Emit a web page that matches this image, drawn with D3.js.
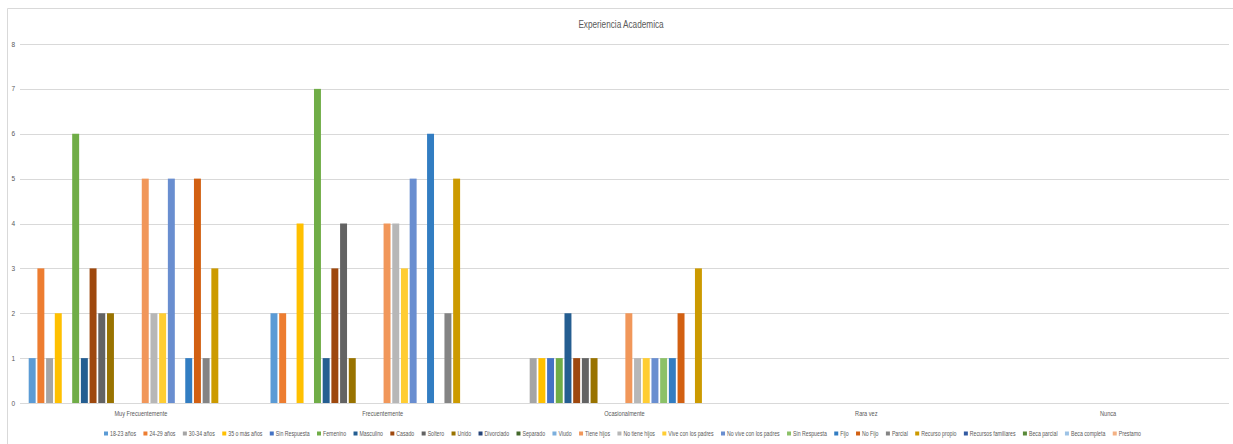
<!DOCTYPE html>
<html>
<head>
<meta charset="utf-8">
<script src="https://cdn.jsdelivr.net/npm/d3@7/dist/d3.min.js"></script>
<style>
  html, body { margin: 0; padding: 0; background: #fff; }
  svg { display: block; }
  text { font-family: "Liberation Sans", Arial, sans-serif; fill: #595959; }
</style>
</head>
<body>
<svg id="chart" width="1233" height="444"></svg>
<script>
// Categories on the x axis
const categories = ["Muy Frecuentemente", "Frecuentemente", "Ocasionalmente", "Rara vez", "Nunca"];

// Series names, in legend order
const seriesNames = [
  "18-23 años", "24-29 años", "30-34 años", "35 o más años", "Sin Respuesta",
  "Femenino", "Masculino", "Casado", "Soltero", "Unido", "Divorciado", "Separado", "Viudo",
  "Tiene hijos", "No tiene hijos", "Vive con los padres", "No vive con los padres", "Sin Respuesta",
  "Fijo", "No Fijo", "Parcial", "Recurso propio", "Recursos familiares", "Beca parcial",
  "Beca completa", "Prestamo"
];

// Counts per series, one value per category
const v18_23        = [1, 2, 0, 0, 0];
const v24_29        = [3, 2, 0, 0, 0];
const v30_34        = [1, 0, 1, 0, 0];
const v35mas        = [2, 4, 1, 0, 0];
const vSinRespEdad  = [0, 0, 1, 0, 0];
const vFemenino     = [6, 7, 1, 0, 0];
const vMasculino    = [1, 1, 2, 0, 0];
const vCasado       = [3, 3, 1, 0, 0];
const vSoltero      = [2, 4, 1, 0, 0];
const vUnido        = [2, 1, 1, 0, 0];
const vDivorciado   = [0, 0, 0, 0, 0];
const vSeparado     = [0, 0, 0, 0, 0];
const vViudo        = [0, 0, 0, 0, 0];
const vTieneHijos   = [5, 4, 2, 0, 0];
const vNoTieneHijos = [2, 4, 1, 0, 0];
const vVivePadres   = [2, 3, 1, 0, 0];
const vNoVivePadres = [5, 5, 1, 0, 0];
const vSinRespViv   = [0, 0, 1, 0, 0];
const vFijo         = [1, 6, 1, 0, 0];
const vNoFijo       = [5, 0, 2, 0, 0];
const vParcial      = [1, 2, 0, 0, 0];
const vRecPropio    = [3, 5, 3, 0, 0];
const vRecFamiliar  = [0, 0, 0, 0, 0];
const vBecaParcial  = [0, 0, 0, 0, 0];
const vBecaCompleta = [0, 0, 0, 0, 0];
const vPrestamo     = [0, 0, 0, 0, 0];

const seriesValues = [
  v18_23, v24_29, v30_34, v35mas, vSinRespEdad, vFemenino, vMasculino, vCasado, vSoltero,
  vUnido, vDivorciado, vSeparado, vViudo, vTieneHijos, vNoTieneHijos, vVivePadres,
  vNoVivePadres, vSinRespViv, vFijo, vNoFijo, vParcial, vRecPropio, vRecFamiliar,
  vBecaParcial, vBecaCompleta, vPrestamo
];

const yTicks = [0, 1, 2, 3, 4, 5, 6, 7, 8];

const colors = [
  "#5B9BD5", "#ED7D31", "#A5A5A5", "#FFC000", "#4472C4", "#70AD47", "#255E91", "#9E480E",
  "#636363", "#997300", "#264478", "#43682B", "#7CAFDD", "#F1975A", "#B7B7B7", "#FFCD33",
  "#698ED0", "#8CC168", "#327DC2", "#D26012", "#848484", "#CC9A00", "#335AA1", "#5A8A39",
  "#9DC3E6", "#F4B183"
];

const svg = d3.select("#chart");
const W = 1233, H = 444;
const plot = { left: 20, right: 1229, top: 44, bottom: 403 };

// narrow the text horizontally, keeping its height
function condense(sel, factor) {
  sel.each(function () {
    const len = this.getComputedTextLength();
    d3.select(this).attr("textLength", len * factor).attr("lengthAdjust", "spacingAndGlyphs");
  });
}

// chart frame
svg.append("path")
  .attr("d", `M7.5,${H} V8.5 H${W}`)
  .attr("fill", "none").attr("stroke", "#D9D9D9").attr("stroke-width", 1);

const x0 = d3.scaleBand().domain(categories).range([plot.left, plot.right]);
const x1 = d3.scaleBand().domain(d3.range(seriesNames.length))
  .range([0, x0.bandwidth()]).paddingInner(0.2).paddingOuter(1.0);
const y = d3.scaleLinear().domain([0, 8]).range([plot.bottom, plot.top]);

// gridlines
svg.append("g")
  .selectAll("line").data(yTicks).join("line")
  .attr("x1", plot.left).attr("x2", plot.right)
  .attr("y1", d => Math.round(y(d)) + 0.5).attr("y2", d => Math.round(y(d)) + 0.5)
  .attr("stroke", "#D9D9D9").attr("stroke-width", 1);

// y axis labels
const yAxis = d3.axisLeft(y).tickValues(yTicks).tickSize(0).tickPadding(0);
svg.append("g").attr("transform", `translate(${plot.left - 5},0)`).call(yAxis)
  .call(g => g.select(".domain").remove())
  .call(g => g.selectAll("text")
    .attr("fill", "#595959").attr("font-size", "6.5px")
    .attr("font-family", "'Liberation Sans', Arial, sans-serif"));

// bars
const groups = svg.append("g").selectAll("g").data(categories).join("g")
  .attr("transform", d => `translate(${x0(d)},0)`);

groups.selectAll("rect")
  .data((c, ci) => seriesValues.map((vals, si) => ({ si, v: vals[ci] })).filter(d => d.v > 0))
  .join("rect")
  .attr("x", d => x1(d.si))
  .attr("width", x1.bandwidth())
  .attr("y", d => y(d.v))
  .attr("height", d => y(0) - y(d.v))
  .attr("fill", d => colors[d.si]);

// x axis labels
const xAxis = d3.axisBottom(x0).tickSize(0).tickPadding(0);
svg.append("g").attr("transform", `translate(0,${plot.bottom + 8})`).call(xAxis)
  .call(g => g.select(".domain").remove())
  .call(g => g.selectAll("text")
    .attr("fill", "#595959").attr("font-size", "7px")
    .attr("font-family", "'Liberation Sans', Arial, sans-serif")
    .call(condense, 0.8));

// title
svg.append("text")
  .attr("x", 621).attr("y", 28)
  .attr("text-anchor", "middle")
  .attr("font-size", "10px")
  .text("Experiencia Academica")
  .call(condense, 0.82);

// legend: one row, spread between fixed ends
const legendLeft = 104, legendRight = 1141, legendY = 434, sw = 4;
const legend = svg.append("g");
const items = legend.selectAll("g").data(seriesNames).join("g");
items.append("rect")
  .attr("width", sw).attr("height", sw)
  .attr("y", legendY - sw / 2 - 0.5)
  .attr("fill", (d, i) => colors[i]);
items.append("text")
  .attr("x", sw + 2).attr("y", legendY + 2.2)
  .attr("font-size", "6.5px")
  .text(d => d)
  .call(condense, 0.8);
const widths = [];
items.each(function () { widths.push(sw + 2 + +d3.select(this).select("text").attr("textLength")); });
const gap = (legendRight - legendLeft - d3.sum(widths)) / (widths.length - 1);
let cx = legendLeft;
items.each(function (d, i) {
  d3.select(this).attr("transform", `translate(${cx},0)`);
  cx += widths[i] + gap;
});
</script>
</body>
</html>
